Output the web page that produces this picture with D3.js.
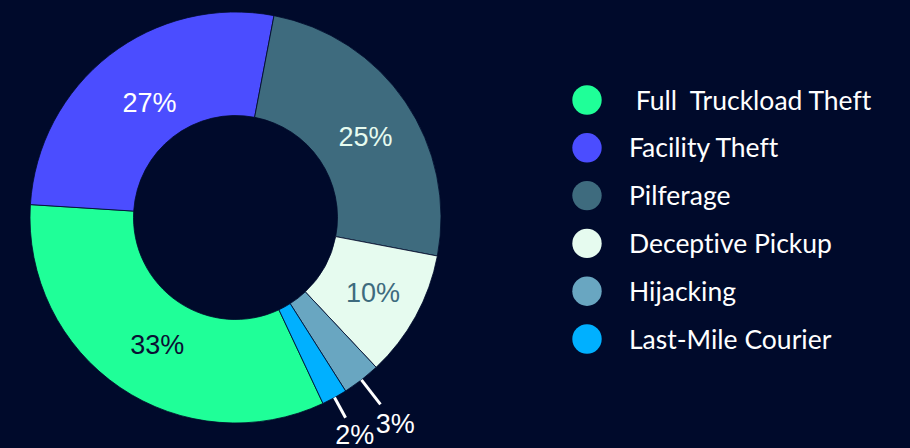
<!DOCTYPE html>
<meta charset="utf-8">
<style>
  body { margin: 0; background: #000a2b; }
  svg { display: block; }
  .legend text { font-family: Lato, sans-serif; font-size: 26.5px; fill: #ffffff; white-space: pre; font-variant-ligatures: none; }
  .pct { font-family: "Liberation Sans", Arial, sans-serif; font-size: 27px; }
</style>
<body>
<script src="https://d3js.org/d3.v7.min.js"></script>
<script>

var categories = [" Full  Truckload Theft", "Facility Theft", "Pilferage", "Deceptive Pickup", "Hijacking", "Last-Mile Courier"];
var values = [33, 27, 25, 10, 3, 2];
var colors = ["#1fff98", "#4b4dff", "#3e6b7e", "#e6fbef", "#69a6c1", "#00b0ff"];
var labelColors = ["#0a1034", "#ffffff", "#e6fbef", "#3e6b7e", "#ffffff", "#ffffff"];
// small slices get an outside label: [leader length, gap to text]
var outsideLen = { 4: [31, 24], 5: [23, 19] };

var width = 910,
    height = 448,
    cx = 235.5,
    cy = 217.5,
    outer = 205.5,
    inner = 102;

var svg = d3.select("body").append("svg")
    .attr("width", width)
    .attr("height", height);

svg.append("rect")
    .attr("width", width)
    .attr("height", height)
    .attr("fill", "#000a2b");

var pie = d3.pie()
    .sort(null)
    .startAngle(154.8 * Math.PI / 180)
    .endAngle(154.8 * Math.PI / 180 + 2 * Math.PI);

var arc = d3.arc()
    .innerRadius(inner)
    .outerRadius(outer);

var arcs = pie(values);

var g = svg.append("g")
    .attr("transform", "translate(" + cx + "," + cy + ")");

g.selectAll("path")
    .data(arcs)
  .enter().append("path")
    .attr("d", arc)
    .attr("fill", function(d, i) { return colors[i]; })
    .attr("stroke", "#000a2b")
    .attr("stroke-width", 0.8);

function polar(a, r) { return [Math.sin(a) * r, -Math.cos(a) * r]; }

arcs.forEach(function(d, i) {
  var mid = (d.startAngle + d.endAngle) / 2;
  var pt;
  if (outsideLen[i]) {
    var p0 = polar(mid, outer),
        p1 = polar(mid, outer + outsideLen[i][0]);
    pt = polar(mid, outer + outsideLen[i][0] + outsideLen[i][1]);
    g.append("line")
        .attr("x1", p0[0]).attr("y1", p0[1])
        .attr("x2", p1[0]).attr("y2", p1[1])
        .attr("stroke", "#ffffff")
        .attr("stroke-width", 3);
  } else {
    pt = polar(mid, 150);
    pt = [pt[0] + 6, pt[1] + 3];
  }
  g.append("text")
      .attr("class", "pct")
      .attr("x", pt[0])
      .attr("y", pt[1])
      .attr("text-anchor", "middle")
      .attr("dy", "0.36em")
      .attr("fill", labelColors[i])
      .text(values[i] + "%");
});

var y = d3.scaleLinear().domain([0, categories.length - 1]).range([100, 339]);

var legend = svg.append("g").attr("class", "legend");

var item = legend.selectAll("g")
    .data(categories)
  .enter().append("g")
    .attr("transform", function(d, i) { return "translate(587," + y(i) + ")"; });

item.append("circle")
    .attr("r", 14.7)
    .attr("fill", function(d, i) { return colors[i]; });

item.append("text")
    .attr("x", 42)
    .attr("y", 9.5)
    .text(function(d) { return d; });

</script>
</body>
